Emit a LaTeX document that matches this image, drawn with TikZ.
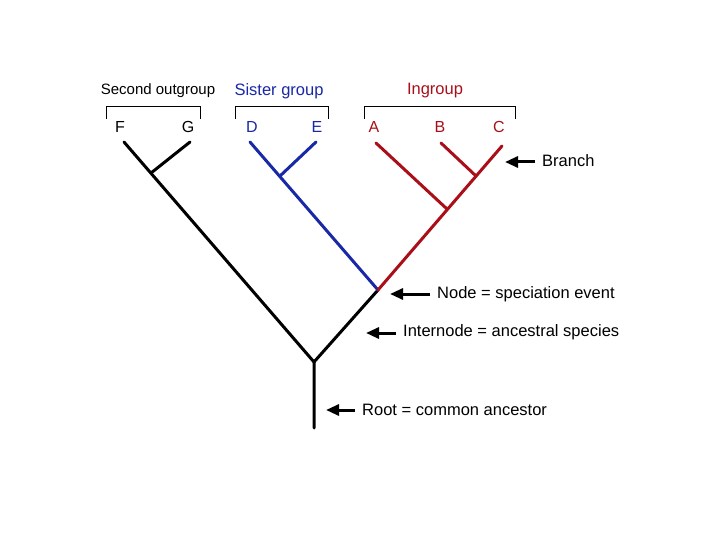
\documentclass[tikz,border=0pt]{standalone}
\usepackage{fontspec}
\setmainfont{Liberation Sans}
\usetikzlibrary{arrows.meta,positioning}
\definecolor{ingred}{RGB}{170,15,25}
\definecolor{sisblue}{RGB}{25,40,165}

\begin{document}
\begin{tikzpicture}[x=1pt, y=-1pt, >={Triangle[length=13pt,width=11pt]},
  branch/.style={line width=3pt, line cap=round, line join=round},
  pointer/.style={->, line width=3pt, shorten <=7pt},
  lbl/.style={font=\fontsize{16.5}{18}\selectfont, inner sep=0pt},
  tip/.style={font=\fontsize{16}{18}\selectfont, inner sep=0pt}]
  \useasboundingbox (0,0) rectangle (720,540);
  % group names and brackets
  \node[lbl, font=\fontsize{15}{17}\selectfont] (outgrp) at (158,91) {Second outgroup};
  \node[lbl, text=sisblue] (sisgrp) at (279,91) {Sister group};
  \node[lbl, text=ingred] (ingrp) at (435,91) {Ingroup};
  \draw (106,119) |- (200,106) -- (200,119);
  \draw (235,119) |- (328,106) -- (328,119);
  \draw (364,119) |- (515,106) -- (515,119);
  % taxa
  \node[tip] (tF) at (120,127) {F};
  \node[tip] (tG) at (188,127) {G};
  \node[tip, text=sisblue] (tD) at (252,127) {D};
  \node[tip, text=sisblue] (tE) at (317,127) {E};
  \node[tip, text=ingred] (tA) at (374,127) {A};
  \node[tip, text=ingred] (tB) at (440,127) {B};
  \node[tip, text=ingred] (tC) at (499,127) {C};
  % tree points
  \coordinate (root) at (314,428);
  \coordinate (rootnode) at (314,362);
  \coordinate (fg) at (151,173);
  \coordinate (F) at (124,142);
  \coordinate (G) at (190,142);
  \coordinate (spec) at (378,290);
  \coordinate (de) at (280,176);
  \coordinate (D) at (250,142);
  \coordinate (E) at (316,142);
  \coordinate (abc) at (447,209);
  \coordinate (bc) at (476,176);
  \coordinate (A) at (376,143);
  \coordinate (B) at (441,143);
  \coordinate (C) at (502,146);
  % outgroup and stem (black)
  \draw[branch] (root) -- (rootnode) -- (F);
  \draw[branch] (fg) -- (G);
  \draw[branch] (rootnode) -- (spec);
  % sister group (blue)
  \draw[branch, sisblue] (spec) -- (D);
  \draw[branch, sisblue] (de) -- (E);
  % ingroup (red)
  \draw[branch, ingred] (spec) -- (C);
  \draw[branch, ingred] (abc) -- (A);
  \draw[branch, ingred] (bc) -- (B);
  % pointers
  \node[lbl, anchor=west] (brlbl) at (542,161) {Branch};
  \node[lbl, anchor=west] (nodelbl) at (437,294) {Node = speciation event};
  \node[lbl, anchor=west] (intlbl) at (403,332) {Internode = ancestral species};
  \node[lbl, anchor=west] (rootlbl) at (362,410) {Root = common ancestor};
  \coordinate (brend) at (505,162);
  \coordinate (nodeend) at (390,294);
  \coordinate (intend) at (366,333);
  \coordinate (rootend) at (326,410);
  \draw[pointer] (brlbl.west |- brend) -- (brend);
  \draw[pointer] (nodelbl.west |- nodeend) -- (nodeend);
  \draw[pointer] (intlbl.west |- intend) -- (intend);
  \draw[pointer] (rootlbl.west |- rootend) -- (rootend);
\end{tikzpicture}
\end{document}
